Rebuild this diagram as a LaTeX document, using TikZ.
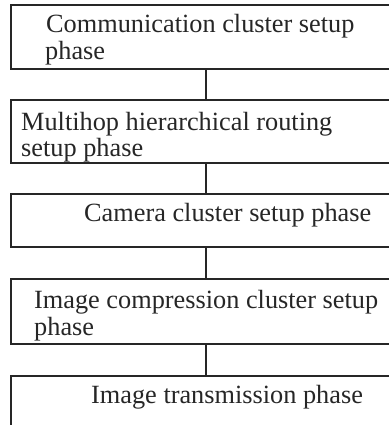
\documentclass[tikz,border=0pt]{standalone}
\usepackage{fontspec}
\setmainfont{Liberation Serif}
\begin{document}
\begin{tikzpicture}[x=1pt,y=-1pt,
  box/.style={rectangle, draw=black!85, line width=2pt, minimum width=389pt, inner sep=0pt, outer sep=0pt, anchor=north west},
  lbl/.style={anchor=base west, inner sep=0pt, text=black!85, font=\fontsize{26.3}{30}\selectfont},
  link/.style={draw=black!85, line width=2pt}]
\useasboundingbox (0,0) rectangle (388,425);
% boxes
\node[box, minimum height=64pt] (b1) at (11,5) {};
\node[box, minimum height=63pt] (b2) at (11,100) {};
\node[box, minimum height=53pt] (b3) at (11,194) {};
\node[box, minimum height=65pt] (b4) at (11,279) {};
\node[box, minimum height=70pt] (b5) at (11,376) {};
% connectors
\draw[link] (b1.south) -- (b2.north);
\draw[link] (b2.south) -- (b3.north);
\draw[link] (b3.south) -- (b4.north);
\draw[link] (b4.south) -- (b5.north);
% texts
\node[lbl] (t1a) at (46,33) {Communication cluster setup};
\node[lbl] (t1b) at (45,60) {phase};
\node[lbl] (t2a) at (21,130) {Multihop hierarchical routing};
\node[lbl] (t2b) at (21,156) {setup phase};
\node[lbl] (t3) at (84,221) {Camera cluster setup phase};
\node[lbl] (t4a) at (34,308) {Image compression cluster setup};
\node[lbl] (t4b) at (34,335) {phase};
\node[lbl] (t5) at (91,403) {Image transmission phase};
\end{tikzpicture}
\end{document}
